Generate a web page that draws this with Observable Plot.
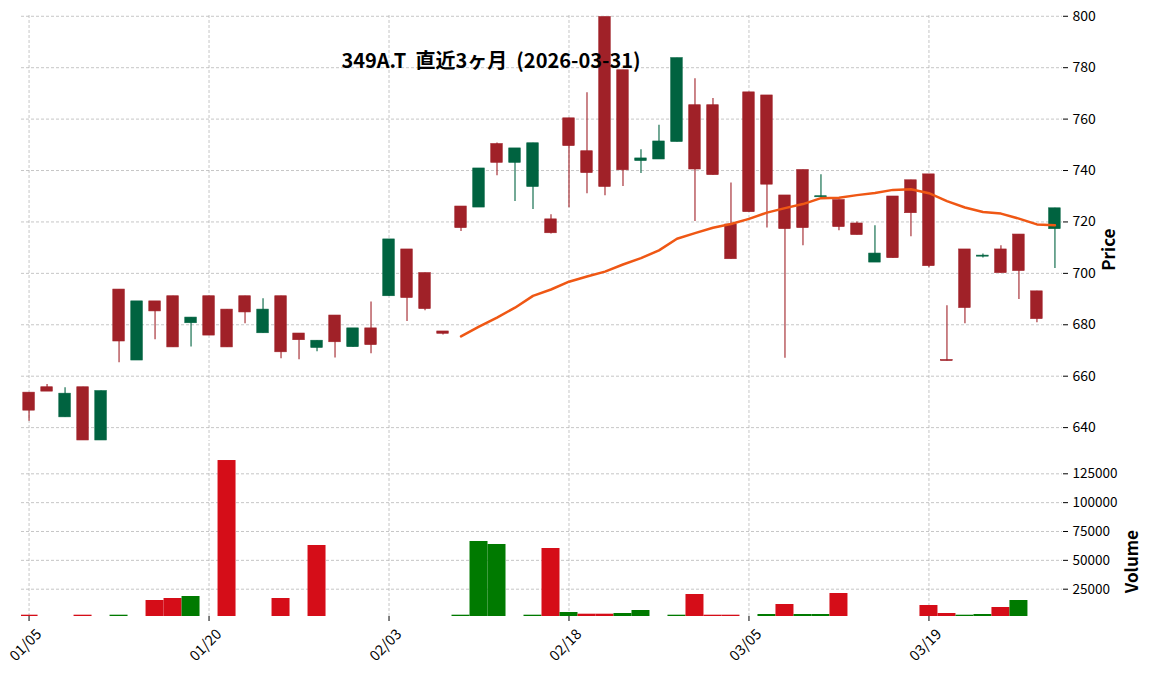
<!DOCTYPE html>
<html><head><meta charset="utf-8">
<script src="https://cdn.jsdelivr.net/npm/d3@7"></script>
<script src="https://cdn.jsdelivr.net/npm/@observablehq/plot@0.6"></script>
<style>
body{margin:0;background:#fff;}
#wrap{position:relative;width:1152px;height:673px;overflow:hidden;background:#fff;}
#wrap svg{position:absolute;left:0;}
</style></head><body><div id="wrap"></div>
<script>
// ---- data ----
const title = "349A.T  直近3ヶ月  (2026-03-31)";
const dates = ["01/05","01/06","01/07","01/08","01/09","01/13","01/14","01/15","01/16","01/19",
  "01/20","01/21","01/22","01/23","01/26","01/27","01/28","01/29","01/30","02/02",
  "02/03","02/04","02/05","02/06","02/09","02/10","02/12","02/13","02/16","02/17",
  "02/18","02/19","02/20","02/24","02/25","02/26","02/27","03/02","03/03","03/04",
  "03/05","03/06","03/09","03/10","03/11","03/12","03/13","03/16","03/17","03/18",
  "03/19","03/23","03/24","03/25","03/26","03/27","03/30","03/31"];
const opens = [653.6,655.7,644.0,655.7,635.0,693.7,666.1,689.1,691.1,680.6,
  691.1,685.9,691.1,676.7,691.1,676.6,671.0,683.6,671.3,678.6,
  691.1,709.3,700.1,677.4,726.0,725.6,750.3,743.0,733.6,721.0,
  760.3,747.5,799.7,779.0,743.7,744.3,751.1,765.4,765.4,719.0,
  770.4,769.2,730.3,740.2,729.6,728.5,719.4,704.2,729.9,736.2,
  738.5,666.3,709.3,706.5,709.3,715.1,693.0,717.2];
const highs = [653.6,656.8,655.5,655.7,654.2,693.7,689.1,689.1,691.1,682.8,
  691.1,685.9,691.1,690.1,691.1,676.6,673.8,683.6,678.6,688.9,
  713.2,709.3,700.1,677.4,726.0,740.8,750.7,748.6,750.6,722.8,
  760.3,770.3,799.7,779.0,748.1,757.6,783.7,775.7,768.0,735.1,
  770.4,769.2,730.3,740.2,738.4,728.5,720.0,718.5,729.9,736.2,
  738.5,687.4,709.3,707.5,710.7,715.1,693.0,725.3];
const lows = [642.5,654.0,644.0,635.0,635.0,665.2,666.1,674.2,671.2,671.4,
  675.8,671.2,680.4,676.7,666.8,666.4,669.5,667.1,671.3,668.7,
  691.1,681.3,685.5,676.0,716.3,725.6,738.0,728.0,724.8,715.3,
  725.5,731.0,730.2,733.8,738.8,744.3,751.1,720.2,738.2,705.5,
  723.8,717.6,667.0,710.7,729.6,716.6,714.9,704.2,705.9,714.2,
  702.2,665.9,680.4,706.0,700.1,689.8,680.8,701.9];
const closes = [646.6,654.0,653.2,635.0,654.2,673.5,689.1,685.2,671.2,682.8,
  675.8,671.2,684.8,685.9,669.3,674.0,673.8,673.2,678.6,672.1,
  713.2,690.4,686.1,676.5,717.6,740.8,743.0,748.6,750.6,715.6,
  749.5,739.0,733.6,740.1,744.7,751.3,783.7,740.4,738.2,705.5,
  723.8,734.5,717.2,717.6,730.0,718.0,714.9,707.7,705.9,723.4,
  702.8,665.9,686.5,706.9,700.1,700.9,682.2,725.3];
const volumes = [2470,0,0,2470,0,2470,0,15200,16940,18670,
  0,136500,0,0,16940,0,62870,0,0,0,
  0,0,0,0,2470,66340,63740,0,2470,60270,
  4800,3340,3340,3940,6540,0,2470,20400,2470,2470,
  0,3070,11740,3070,3070,21270,0,0,0,0,
  10870,3940,2470,3070,9140,15200,0,0];
const priceTicks = [640,660,680,700,720,740,760,780,800];
const volumeTicks = [25000,50000,75000,100000,125000];
const tickIdx = [0,10,20,30,40,50];
const maWindow = 25;

// ---- styles ----
const UP="#006340", DOWN="#A02128", VUP="#007a00", VDOWN="#d50d18", MA="#ef5714";
const GRID = {stroke:"#b8b8b8", strokeOpacity:1, strokeDasharray:"3,2", strokeWidth:0.8};
const FONT = "'Noto Sans CJK JP','Noto Sans',sans-serif";

const data = dates.map((d,i)=>({i, date:d, open:opens[i], high:highs[i], low:lows[i], close:closes[i],
  volume:volumes[i], up: closes[i]>=opens[i],
  vup: i===0 ? closes[i]>=opens[i] : closes[i]>=closes[i-1]}));
const ma = [];
for (let i = maWindow-1; i < closes.length; i++) ma.push({i, v: d3.mean(closes.slice(i-maWindow+1, i+1))});

const xDomain = [-0.42, 57.42];
const wrap = document.getElementById("wrap");

const price = Plot.plot({
  width:1152, height:442, marginTop:15, marginBottom:1, marginLeft:21, marginRight:90,
  style:{fontFamily:FONT, fontSize:"13.5px", background:"transparent", overflow:"visible", color:"#000"},
  x:{domain:xDomain, axis:null},
  y:{domain:[634.6,800.3]},
  marks:[
    Plot.gridY(priceTicks, GRID),
    Plot.gridX(tickIdx, GRID),
    Plot.axisY({anchor:"right", ticks:priceTicks, tickSize:5, tickPadding:5, label:null, fontSize:14}),
    Plot.ruleX(data, {x:"i", y1:"low", y2:"high", stroke:d=>d.up?UP:DOWN, strokeWidth:1.1, clip:true}),
    Plot.rectY(data, {x1:d=>d.i-0.32, x2:d=>d.i+0.32, y1:"open", y2:"close",
      fill:d=>d.up?UP:DOWN, stroke:d=>d.up?UP:DOWN, strokeWidth:0.6, clip:true}),
    Plot.line(ma, {x:"i", y:"v", stroke:MA, strokeWidth:2.5}),
    Plot.text([title], {text:d=>d, frameAnchor:"top-left", dx:469.5, dy:38, textAnchor:"middle",
      fontSize:20, fontWeight:"bold", fill:"#000"}),
    Plot.text(["Price"], {text:d=>d, frameAnchor:"right", dx:47, rotate:-90, fontSize:17, fontWeight:"bold", fill:"#000"})
  ]
});
price.style.top = "0px";
wrap.appendChild(price);

const volData = data.filter(d=>d.volume>0);
const vMin = 1343;
const vol = Plot.plot({
  width:1152, height:233, marginTop:3, marginBottom:57, marginLeft:21, marginRight:90,
  style:{fontFamily:FONT, fontSize:"13.5px", background:"transparent", overflow:"visible", color:"#000"},
  x:{domain:xDomain},
  y:{domain:[vMin,151256]},
  marks:[
    Plot.gridY(volumeTicks, GRID),
    Plot.gridX(tickIdx, GRID),
    Plot.rectY(volData, {x1:d=>d.i-0.5, x2:d=>d.i+0.5, y1:vMin, y2:"volume",
      fill:d=>d.vup?VUP:VDOWN, clip:true}),
    Plot.axisY({anchor:"right", ticks:volumeTicks, tickSize:5, tickPadding:5, label:null,
      tickFormat:d=>String(d), fontSize:13.5}),
    Plot.axisX({ticks:tickIdx, tickSize:5, tickFormat:()=>"", label:null}),
    Plot.text(tickIdx, {x:d=>d, text:d=>dates[d], frameAnchor:"bottom", dy:32, rotate:-45,
      textAnchor:"middle", fontSize:14.5, fill:"#000"}),
    Plot.text(["Volume"], {text:d=>d, frameAnchor:"right", dx:70, rotate:-90, fontSize:17, fontWeight:"bold", fill:"#000"})
  ]
});
vol.style.top = "440px";
wrap.appendChild(vol);
</script></body></html>
